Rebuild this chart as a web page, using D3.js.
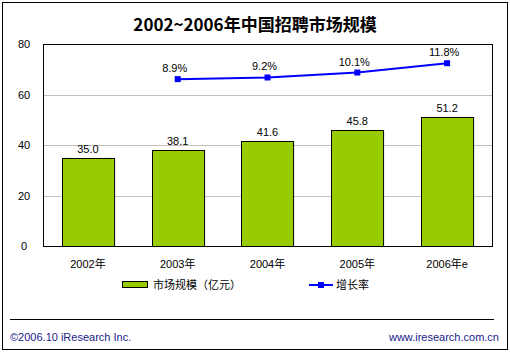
<!DOCTYPE html>
<html>
<head>
<meta charset="utf-8">
<script src="https://cdn.jsdelivr.net/npm/d3@7"></script>
<style>
  body { margin: 0; background: #fff; }
  text { font-family: "Liberation Sans", "Noto Sans CJK SC", sans-serif; }
</style>
</head>
<body>
<script>
// Datos del gráfico
const anios = ["2002年", "2003年", "2004年", "2005年", "2006年e"];
const mercado = [35.0, 38.1, 41.6, 45.8, 51.2];
const crecimiento = [null, 8.9, 9.2, 10.1, 11.8];
const ticksY = [0, 20, 40, 60, 80];

const WIDTH = 510;
const HEIGHT = 354;
const MARGIN = { top: 44, bottom: 108, left: 43, right: 18 };
const WIDTHVIS = WIDTH - MARGIN.left - MARGIN.right;
const HEIGHTVIS = HEIGHT - MARGIN.top - MARGIN.bottom;

const svg = d3.select("body")
  .append("svg")
  .attr("width", WIDTH)
  .attr("height", HEIGHT);

// Marco exterior
svg.append("rect")
  .attr("x", 2.5).attr("y", 2.5)
  .attr("width", 505).attr("height", 347)
  .attr("fill", "#fff").attr("stroke", "#000");

// Título
svg.append("text")
  .attr("x", 255).attr("y", 31)
  .attr("text-anchor", "middle")
  .style("font-family", "'Noto Sans CJK SC', sans-serif")
  .style("font-size", "17px")
  .style("font-weight", "bold")
  .text("2002~2006年中国招聘市场规模");

const vis = svg.append("g")
  .attr("transform", `translate(${MARGIN.left}, ${MARGIN.top})`);

const escalaX = d3.scaleBand()
  .domain(anios)
  .range([0, WIDTHVIS])
  .paddingInner(0.42)
  .paddingOuter(0.21);

const escalaY = d3.scaleLinear()
  .domain([0, 80])
  .range([HEIGHTVIS, 0]);

// Escala secundaria (oculta) para la tasa de crecimiento
const escalaY2 = d3.scaleLinear()
  .domain([-21.5, 15.3])
  .range([HEIGHTVIS, 0]);

// Líneas de grilla
vis.selectAll("line.grid")
  .data(ticksY.filter(d => d > 0 && d < 80))
  .join("line")
  .attr("class", "grid")
  .attr("x1", 0).attr("x2", WIDTHVIS)
  .attr("y1", d => Math.round(escalaY(d)) + 0.5)
  .attr("y2", d => Math.round(escalaY(d)) + 0.5)
  .attr("stroke", "#c0c0c0");

// Barras
vis.selectAll("rect.bar")
  .data(mercado)
  .join("rect")
  .attr("class", "bar")
  .attr("x", (d, i) => Math.round(escalaX(anios[i])) + 0.5)
  .attr("y", d => Math.round(escalaY(d)) + 0.5)
  .attr("width", escalaX.bandwidth())
  .attr("height", d => HEIGHTVIS - Math.round(escalaY(d)))
  .attr("fill", "#99cc00")
  .attr("stroke", "#000");

// Etiquetas de barras
vis.selectAll("text.val")
  .data(mercado)
  .join("text")
  .attr("class", "val")
  .attr("x", (d, i) => escalaX(anios[i]) + escalaX.bandwidth() / 2)
  .attr("y", d => escalaY(d) - 5)
  .attr("text-anchor", "middle")
  .style("font-size", "11px")
  .text(d => d.toFixed(1));

// Marco del área de gráfico
vis.append("rect")
  .attr("x", 0.5).attr("y", 0.5)
  .attr("width", WIDTHVIS).attr("height", HEIGHTVIS)
  .attr("fill", "none").attr("stroke", "#000");

// Eje Y (etiquetas centradas lejos del marco)
const ejeY = d3.axisLeft(escalaY).tickValues(ticksY).tickSize(0).tickPadding(0);
vis.append("g").call(ejeY)
  .call(g => g.select(".domain").remove())
  .selectAll("text")
  .attr("x", -19)
  .attr("text-anchor", "middle")
  .style("font-size", "11px")
  .style("font-family", "'Liberation Sans', sans-serif");

// Eje X
const ejeX = d3.axisBottom(escalaX).tickSize(0).tickPadding(14);
vis.append("g")
  .attr("transform", `translate(0, ${HEIGHTVIS})`)
  .call(ejeX)
  .call(g => g.select(".domain").remove())
  .selectAll("text")
  .style("font-size", "11px")
  .style("font-family", "'Liberation Sans', 'Noto Sans CJK SC', sans-serif");

// Línea de crecimiento
const puntos = crecimiento
  .map((v, i) => ({ v, cat: anios[i] }))
  .filter(d => d.v !== null);
const centro = d => escalaX(d.cat) + escalaX.bandwidth() / 2;

vis.append("path")
  .datum(puntos)
  .attr("fill", "none")
  .attr("stroke", "#0000ff")
  .attr("stroke-width", 2)
  .attr("d", d3.line().x(centro).y(d => escalaY2(d.v)));

vis.selectAll("rect.mk")
  .data(puntos)
  .join("rect")
  .attr("class", "mk")
  .attr("x", d => centro(d) - 3)
  .attr("y", d => escalaY2(d.v) - 3)
  .attr("width", 6).attr("height", 6)
  .attr("fill", "#0000ff");

vis.selectAll("text.pct")
  .data(puntos)
  .join("text")
  .attr("class", "pct")
  .attr("x", d => centro(d) - 3)
  .attr("y", d => escalaY2(d.v) - 7)
  .attr("text-anchor", "middle")
  .style("font-size", "11px")
  .text(d => d.v.toFixed(1) + "%");

// Leyenda
const leyenda = svg.append("g");
leyenda.append("rect")
  .attr("x", 122.5).attr("y", 281.5)
  .attr("width", 25).attr("height", 6)
  .attr("fill", "#99cc00").attr("stroke", "#000");
leyenda.append("text")
  .attr("x", 153).attr("y", 289)
  .style("font-size", "11px")
  .style("font-family", "'Noto Sans CJK SC', sans-serif")
  .text("市场规模（亿元）");
leyenda.append("line")
  .attr("x1", 309).attr("x2", 333)
  .attr("y1", 285).attr("y2", 285)
  .attr("stroke", "#0000ff").attr("stroke-width", 2);
leyenda.append("rect")
  .attr("x", 318).attr("y", 282)
  .attr("width", 6).attr("height", 6)
  .attr("fill", "#0000ff");
leyenda.append("text")
  .attr("x", 336).attr("y", 289)
  .style("font-size", "11px")
  .style("font-family", "'Noto Sans CJK SC', sans-serif")
  .text("增长率");

// Pie de página
svg.append("line")
  .attr("x1", 10).attr("x2", 494)
  .attr("y1", 319.5).attr("y2", 319.5)
  .attr("stroke", "#000");
svg.append("text")
  .attr("x", 10).attr("y", 341)
  .attr("fill", "#1a1a8c")
  .style("font-size", "11px")
  .text("©2006.10 iResearch Inc.");
svg.append("text")
  .attr("x", 499).attr("y", 341)
  .attr("text-anchor", "end")
  .attr("fill", "#1a1a8c")
  .style("font-size", "11px")
  .text("www.iresearch.com.cn");
</script>
</body>
</html>
